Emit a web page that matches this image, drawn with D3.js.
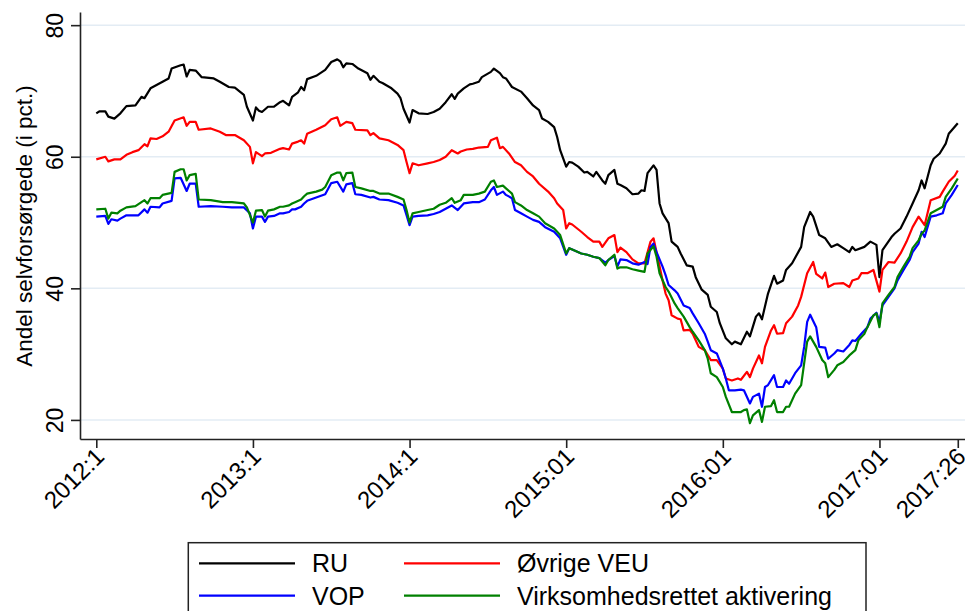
<!DOCTYPE html>
<html lang="en">
<head>
    <meta charset="utf-8">
    <script src="https://d3js.org/d3.v7.min.js"></script>
</head>
<style>
    body { margin: 0; background: #fff; }
    text { font-family: "Liberation Sans", Arial, sans-serif; fill: #000; }
</style>
<body>
<script>
    const w = 965
    const h = 611

    // weekly index (0 = 2012:1) and share in pct
    const ru = [[0,66.6],[1,66.9],[3,66.9],[4,66.1],[6,65.8],[8,66.6],[10,67.7],[13,67.8],[15,69.1],[16,68.9],[18,70.4],[20,70.9],[22,71.4],[24,71.9],[25,73.4],[28,73.9],[29,74],[30,72.2],[31,73.2],[33,73.1],[35,72.1],[39,71.9],[41,71.4],[44,70.6],[46,70.5],[49,69.4],[50,67.6],[52,65.5],[53,67.5],[54,67],[55,66.8],[57,67.6],[59,67.6],[61,68.3],[62,68.5],[64,67.8],[65,69.1],[67,69.8],[68,70.6],[69,70.1],[70,71.8],[73,72.3],[75,72.9],[76,73.2],[78,74.4],[80,74.8],[81,74.5],[82,73.6],[83,74.2],[85,74.1],[87,73.4],[90,72.7],[91,71.7],[92,72.3],[94,71.4],[95,71.2],[98,70.4],[100,69.6],[101,68.9],[102,67.3],[104,65.2],[105,67.1],[107,66.6],[110,66.5],[112,66.8],[114,67.3],[116,68.3],[118,69.5],[119,68.8],[120,69.6],[122,70.4],[124,71],[125,71.1],[127,71.4],[128,72.1],[131,72.9],[132,73.4],[134,72.7],[135,72.1],[136,71.9],[138,70.6],[141,69.9],[143,68.9],[145,67.8],[147,67.1],[148,65.8],[150,65.3],[152,64.5],[153,63],[154,61],[156,58.5],[157,59.2],[158,59.1],[160,58.5],[162,57.6],[163,57.7],[165,57],[166,57.7],[168,56.4],[169,55.9],[170,57.2],[172,58],[173,55.9],[174,55.7],[176,55.2],[178,54.3],[180,54.4],[181,54.9],[182,54.8],[183,57.5],[185,58.7],[186,58],[187,52.9],[188,51.4],[190,49.9],[191,47.1],[193,46.3],[194,45.3],[196,43.5],[198,43.3],[199,41.7],[201,39.8],[203,39],[204,37.2],[206,36.4],[207,34.7],[209,32.4],[211,31.5],[212,31.9],[214,31.5],[216,33.4],[217,32.7],[219,35.7],[220,36.2],[221,35.3],[223,39.2],[225,41.9],[226,40.7],[228,41.2],[229,42.8],[231,43.8],[234,46.3],[235,49.3],[237,51.6],[238,50.9],[240,48.1],[242,47.6],[244,46.3],[246,46.7],[248,46.1],[250,45.5],[251,46.3],[252,45.8],[255,46.3],[257,47.1],[259,46.6],[260,41.7],[261,45.8],[264,47.8],[265,48.3],[267,49.1],[269,50.9],[271,52.9],[273,54.9],[274,56.4],[275,55.2],[277,58.7],[278,59.7],[280,60.5],[282,62],[283,63.5],[286,65.1]]

    const ovrigeVeu = [[0,59.6],[3,60],[4,59.3],[6,59.6],[8,59.6],[10,60.3],[12,60.7],[14,61],[16,61.9],[17,61.6],[18,62.8],[20,62.7],[22,63.1],[24,63.8],[26,65.5],[29,66],[30,64.7],[31,65.3],[33,65.3],[34,64.1],[38,64.3],[41,63.8],[43,63.3],[46,63.3],[49,62.5],[51,61.5],[52,59],[53,60.7],[55,60.1],[56,60.5],[58,60.6],[61,61.2],[62,61.3],[64,61.1],[65,62],[67,62.3],[68,62.5],[69,62],[70,63.5],[73,64.1],[76,64.8],[78,65.7],[80,66],[81,64.7],[83,65.3],[85,65.1],[86,64.1],[90,64],[91,63.3],[92,63.6],[94,62.8],[97,62.5],[100,61.8],[102,61],[103,59.2],[104,57.5],[105,59],[107,58.7],[110,59],[112,59.2],[114,59.5],[116,60],[118,61],[120,60.5],[121,60.8],[123,61.1],[125,61.2],[127,61.4],[130,61.5],[131,62.5],[133,62.9],[134,61.3],[135,61.5],[137,60.5],[139,59.2],[141,58.7],[143,57.7],[145,57],[147,55.9],[150,54.7],[152,53.7],[153,52.9],[155,51.9],[156,49.1],[157,49.9],[158,49.7],[161,48.6],[163,47.8],[165,47.1],[167,47.1],[168,46.3],[170,47.6],[172,48.1],[173,45.5],[174,46.2],[176,45.5],[178,44.4],[180,43.8],[182,43.8],[184,47.1],[185,47.6],[186,45.5],[188,41.2],[189,39.2],[190,38.2],[191,35.9],[193,35.4],[194,35.3],[195,33.6],[197,33.7],[198,33.1],[200,31.1],[202,30.6],[204,29.1],[206,29.1],[208,27.8],[209,26.3],[211,26],[213,26.3],[214,26.1],[216,27.3],[217,26.5],[218,27.8],[220,29.8],[221,28.6],[222,31.1],[224,33.6],[225,34.4],[226,33.1],[228,33.2],[229,34.7],[231,35.7],[233,37.4],[234,38.7],[236,42.3],[238,44],[239,42.2],[241,41.5],[242,42.4],[243,40.2],[245,40.7],[248,40.8],[250,40.2],[251,41.2],[253,41.5],[254,42.3],[256,42.3],[258,42.8],[260,39.5],[261,42.8],[263,44],[265,43.9],[267,45.3],[269,47.1],[271,49.3],[273,50.9],[275,49.6],[277,53.4],[280,53.9],[281,54.7],[283,56.2],[285,57.1],[286,57.9]]

    const vop = [[0,50.9],[3,51],[4,49.8],[5,50.5],[7,50.3],[8,50.6],[10,51.1],[14,51.1],[16,52],[17,51.5],[18,52.4],[21,52.3],[22,52.9],[25,53.3],[26,56.7],[28,56.8],[30,54.8],[31,55.9],[33,55.9],[34,52.4],[38,52.5],[42,52.4],[45,52.3],[49,52.3],[51,51.4],[52,49.1],[53,50.9],[55,50.9],[56,50.1],[57,50.9],[59,51],[61,51.4],[62,51.4],[64,51.6],[65,52],[66,52],[68,52.4],[69,52.9],[70,53.3],[73,53.8],[76,54.3],[78,56],[80,56.2],[82,54.7],[83,55.8],[85,56],[86,54.3],[88,54.2],[91,53.8],[92,53.9],[94,53.5],[97,53.4],[100,53],[102,52.6],[103,51.1],[104,49.6],[105,50.9],[107,51],[110,51.1],[112,51.3],[114,51.6],[116,52.1],[118,52.6],[120,51.9],[122,52.9],[125,53.1],[127,53.1],[129,53.5],[131,54.9],[132,55.4],[133,54.2],[135,54.7],[136,54.2],[138,53.7],[139,51.9],[141,51.4],[143,50.9],[145,50.4],[147,50.1],[149,49.3],[152,48.6],[154,47.6],[156,45.1],[157,46.1],[158,45.9],[161,45.3],[163,45.1],[165,44.8],[167,44.6],[169,43.9],[170,44.3],[172,44.9],[173,43.3],[174,44.4],[176,44.3],[178,43.8],[180,43.6],[182,44],[183,43.7],[184,46.3],[185,46.8],[186,45.5],[188,43.3],[189,42],[190,40.5],[192,39.7],[193,39.2],[195,37.4],[197,37],[198,36.2],[200,34.7],[202,33.1],[203,31.9],[204,30.6],[206,30.1],[208,27.8],[209,26.3],[210,24.5],[212,24.5],[214,24.6],[215,24.5],[217,22.5],[218,23.5],[220,24],[221,22],[222,25],[223,25.3],[225,26.8],[226,25],[228,25],[229,26],[230,25.5],[232,27.1],[234,28.3],[235,31.1],[236,34.9],[237,36],[239,34.1],[240,31.1],[242,31],[243,29.3],[245,30.1],[246,30.6],[248,30.4],[250,31.4],[251,32.1],[252,32],[254,33.1],[256,34.1],[257,35.4],[259,36.3],[260,34.9],[261,37.4],[263,38.7],[265,40],[266,41.2],[268,42.8],[270,44.3],[271,45.5],[273,46.8],[274,48.6],[275,47.8],[277,50.9],[279,51.1],[281,51.4],[282,52.9],[284,54.2],[286,55.7]]

    const virksomhed = [[0,52],[3,52.1],[4,50.6],[5,51.5],[7,51.4],[8,51.8],[10,52.3],[13,52.5],[14,52.8],[16,53.4],[17,52.9],[18,53.7],[21,53.7],[22,54.2],[25,54.5],[26,57.7],[28,58.1],[29,58.1],[30,56.4],[31,57.2],[33,57.4],[34,53.5],[38,53.4],[42,53.1],[45,53.1],[49,52.9],[50,52.3],[52,50],[53,51.8],[55,51.9],[56,50.9],[57,51.8],[59,52],[61,52.4],[62,52.4],[64,52.6],[65,52.9],[66,53.1],[68,53.5],[69,54],[70,54.4],[73,54.7],[75,55],[76,55.4],[78,57.2],[80,57.6],[81,57.6],[82,56.4],[83,57.5],[85,57.6],[86,55.4],[88,55.2],[91,54.8],[92,54.8],[94,54.4],[97,54.4],[100,53.9],[102,53.5],[103,51.9],[104,50],[105,51.4],[107,51.6],[110,51.9],[112,52.1],[114,52.7],[116,53],[118,53.7],[119,53],[121,53.4],[122,54.2],[125,54.2],[127,54.4],[129,54.7],[131,56.2],[132,56.4],[133,55.4],[135,55.6],[136,55.2],[138,54.4],[139,53.1],[141,52.6],[143,51.9],[145,51.4],[147,50.9],[149,49.9],[152,49.1],[154,48.1],[156,45.3],[157,46.1],[158,45.9],[161,45.3],[163,45.1],[165,44.8],[167,44.6],[169,43.5],[170,44.3],[172,45.1],[173,43],[174,43.2],[176,43.2],[178,42.9],[180,42.7],[182,42.5],[183,45.3],[185,46.4],[186,44.8],[187,42.3],[189,40.2],[190,39.5],[192,37.7],[193,37],[195,35.7],[197,34.1],[198,33.4],[200,32.1],[202,30.6],[203,29.3],[204,27.1],[206,26.5],[208,25],[209,23.5],[211,21.2],[214,21.2],[215,21.5],[216,21.6],[217,19.5],[218,20.7],[220,21.5],[221,19.7],[222,22],[224,22.1],[225,23],[226,21.2],[228,21.2],[229,22],[230,22],[232,24],[234,25.3],[235,28.6],[236,31.9],[237,32.7],[239,31.1],[241,29.1],[242,28.6],[243,26.5],[245,27.6],[246,28.3],[248,28.8],[250,29.8],[252,30.6],[253,32.1],[255,33.1],[256,34.1],[258,35.9],[259,36.2],[260,34.1],[261,37.7],[263,39],[265,40.2],[266,41.7],[268,43.3],[270,44.8],[271,46.1],[273,47.3],[274,48.3],[275,48.8],[277,51.4],[279,51.9],[281,52.4],[282,53.9],[284,55.2],[286,56.7]]

    const seriesNames = ["RU", "Øvrige VEU", "VOP", "Virksomhedsrettet aktivering"]
    const seriesData = [ru, ovrigeVeu, vop, virksomhed]
    const seriesColors = ["#000000", "#ff0000", "#0000ff", "#008000"]

    const xTickWeeks = [0, 52, 104, 156, 208, 260, 286]
    const xTickLabels = ["2012:1", "2013:1", "2014:1", "2015:01", "2016:01", "2017:01", "2017:26"]
    const yTicks = [20, 40, 60, 80]

    var svg = d3.select("body")
        .append("svg")
        .attr("width", w)
        .attr("height", h)

    svg.append("rect").attr("width", w).attr("height", h).attr("fill", "#fff")

    // plot region: axis at x=80, bottom at y=439
    let xScale = d3.scaleLinear()
        .domain([-5.41, 288.4])
        .range([80, 965])

    let yScale = d3.scaleLinear()
        .domain([17.1, 82])
        .range([439, 12])

    // grid
    svg.selectAll(".grid")
        .data(yTicks)
        .enter()
        .append("line")
        .attr("x1", xScale.range()[0])
        .attr("x2", xScale.range()[1])
        .attr("y1", d => yScale(d))
        .attr("y2", d => yScale(d))
        .attr("stroke", "#e3ecf4")
        .attr("stroke-width", 1.5)

    // y axis
    let yAxis = svg.append("g")
        .attr("transform", "translate(80,0)")
        .call(d3.axisLeft(yScale).tickValues(yTicks).tickSize(9).tickSizeOuter(0))
    yAxis.select(".domain").attr("stroke", "#222").attr("stroke-width", 1.6)
    yAxis.selectAll(".tick line").attr("stroke", "#222").attr("stroke-width", 1.6)
    yAxis.selectAll(".tick text")
        .attr("transform", "rotate(-90)")
        .attr("x", 0)
        .attr("y", -17)
        .attr("dy", 0)
        .attr("text-anchor", "middle")
        .attr("font-size", 23)
        .attr("font-family", "Liberation Sans, Arial, sans-serif")
        .attr("fill", "#000")

    // x axis
    let xAxis = svg.append("g")
        .attr("transform", "translate(0,439)")
        .call(d3.axisBottom(xScale).tickValues(xTickWeeks).tickSize(9).tickSizeOuter(0)
            .tickFormat((d, i) => xTickLabels[i]))
    xAxis.select(".domain").attr("stroke", "#222").attr("stroke-width", 1.6)
    xAxis.selectAll(".tick line").attr("stroke", "#222").attr("stroke-width", 1.6)
    xAxis.selectAll(".tick text")
        .attr("transform", "translate(9,19) rotate(-45)")
        .attr("x", 0)
        .attr("y", 0)
        .attr("dy", 0)
        .attr("text-anchor", "end")
        .attr("font-size", 24)
        .attr("font-family", "Liberation Sans, Arial, sans-serif")
        .attr("fill", "#000")

    // y title
    svg.append("text")
        .attr("transform", "translate(32,226) rotate(-90)")
        .attr("text-anchor", "middle")
        .attr("font-size", 22.5)
        .text("Andel selvforsørgede (i pct.)")

    // lines
    let line = d3.line()
        .x(d => xScale(d[0]))
        .y(d => yScale(d[1]))

    svg.selectAll(".series")
        .data(seriesData)
        .enter()
        .append("path")
        .attr("d", d => line(d))
        .attr("fill", "none")
        .attr("stroke", (d, i) => seriesColors[i])
        .attr("stroke-width", 2.2)
        .attr("stroke-linejoin", "round")

    // legend
    let legend = svg.append("g")
    legend.append("rect")
        .attr("x", 188.3)
        .attr("y", 542.7)
        .attr("width", 677.7)
        .attr("height", 90)
        .attr("fill", "#fff")
        .attr("stroke", "#222")
        .attr("stroke-width", 1.5)

    const colX = [199, 404]
    const rowY = [563.3, 595.7]
    seriesNames.forEach((name, i) => {
        let cx = colX[i % 2]
        let cy = rowY[Math.floor(i / 2)]
        legend.append("line")
            .attr("x1", cx).attr("x2", cx + 96)
            .attr("y1", cy).attr("y2", cy)
            .attr("stroke", seriesColors[i])
            .attr("stroke-width", 2.2)
        legend.append("text")
            .attr("x", cx + 113)
            .attr("y", cy + 9)
            .attr("font-size", 25)
            .text(name)
    })
</script>
</body>
</html>
